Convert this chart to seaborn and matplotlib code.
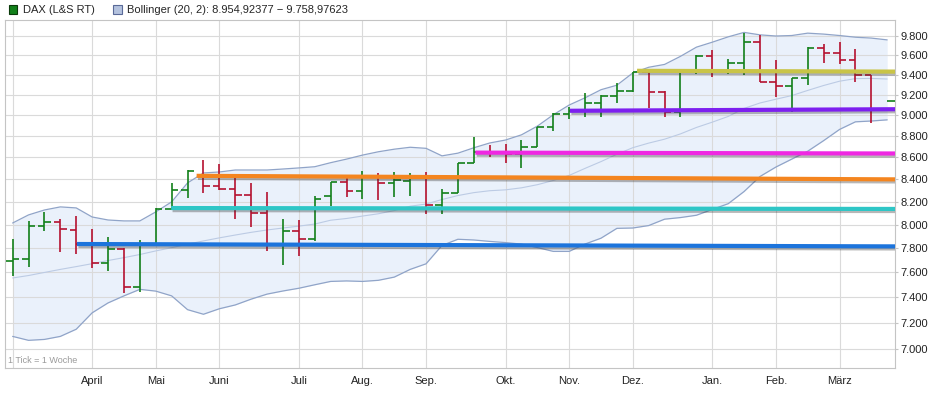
import numpy as np
import pandas as pd
import seaborn as sns
import matplotlib.pyplot as plt
import matplotlib.patheffects as pe
from matplotlib.patches import Patch
from matplotlib.ticker import FixedLocator, NullLocator, FuncFormatter

# Weekly OHLC bars, DAX (L&S RT), week index 0 = first bar (1 Tick = 1 Woche)
opens = [7694, 7711, 7986, 8024, 7955, 7836, 7675, 7794, 7479, 7836,
         8134, 8304, 8430, 8340, 8311, 8263, 8104, 7836, 7946, 7876,
         8248, 8373, 8296, 8430, 8370, 8385, 8430, 8169, 8280, 8546,
         8651, 8641, 8632, 8700, 8884, 9012, 9040, 9116, 9185, 9237,
         9431, 9230, 9031, 9431, 9595, 9425, 9516, 9740, 9330, 9290,
         9364, 9671, 9619, 9550, 9398]
highs = [7876, 8032, 8113, 8049, 8075, 7963, 7893, 7800, 7866, 8141,
         8364, 8485, 8577, 8540, 8410, 8370, 8289, 8047, 8041, 8251,
         8380, 8419, 8476, 8455, 8469, 8460, 8464, 8313, 8552, 8787,
         8716, 8726, 8763, 8889, 9018, 9083, 9214, 9198, 9314, 9431,
         9435, 9240, 9435, 9602, 9654, 9558, 9835, 9811, 9550, 9370,
         9682, 9716, 9740, 9661, 9398]
lows = [7573, 7647, 7946, 7766, 7755, 7636, 7614, 7431, 7444, 7833,
        8128, 8231, 8275, 8304, 8047, 7978, 7780, 7661, 7736, 7861,
        8163, 8239, 8222, 8216, 8245, 8251, 8093, 8093, 8278, 8546,
        8607, 8552, 8500, 8695, 8851, 8960, 8980, 8985, 9116, 9230,
        9067, 8985, 8985, 9408, 9374, 9408, 9398, 9330, 9175, 9034,
        9297, 9516, 9509, 9330, 8922]
closes = [7711, 7986, 8024, 7961, 7836, 7675, 7794, 7479, 7836, 8134,
          8304, 8476, 8340, 8311, 8263, 8104, 7836, 7946, 7876, 8222,
          8373, 8296, 8430, 8370, 8394, 8430, 8169, 8280, 8546, 8651,
          8641, 8632, 8700, 8884, 9012, 9040, 9116, 9185, 9237, 9431,
          9230, 9031, 9431, 9595, 9425, 9516, 9740, 9330, 9290, 9364,
          9671, 9619, 9550, 9398, 9050]
last_price = 9138

# Bollinger (20, 2), one value per week incl. the running week
bb_upper = [8015, 8085, 8128, 8155, 8146, 8067, 8041, 8033, 8033, 8111,
            8199, 8368, 8458, 8467, 8485, 8485, 8485, 8494, 8504, 8515,
            8552, 8585, 8622, 8653, 8677, 8695, 8685, 8615, 8640, 8690,
            8735, 8763, 8812, 8895, 9004, 9099, 9170, 9250, 9295, 9418,
            9476, 9505, 9588, 9683, 9735, 9791, 9838, 9812, 9800, 9805,
            9830, 9820, 9805, 9787, 9778, 9759]
bb_mid = [7555, 7575, 7600, 7625, 7648, 7672, 7698, 7722, 7748, 7778,
          7805, 7835, 7862, 7888, 7912, 7935, 7955, 7972, 7988, 8006,
          8039, 8054, 8075, 8095, 8123, 8161, 8180, 8220, 8255, 8281,
          8298, 8306, 8324, 8352, 8390, 8436, 8500, 8562, 8630, 8691,
          8734, 8771, 8821, 8882, 8933, 8988, 9066, 9119, 9156, 9192,
          9243, 9292, 9335, 9361, 9363, 9357]
bb_lower = [7095, 7065, 7072, 7095, 7150, 7277, 7355, 7411, 7463, 7449,
            7411, 7302, 7266, 7309, 7339, 7385, 7425, 7450, 7472, 7500,
            7527, 7531, 7527, 7536, 7562, 7625, 7671, 7824, 7876, 7870,
            7858, 7848, 7835, 7806, 7774, 7774, 7836, 7885, 7969, 7972,
            7993, 8048, 8062, 8082, 8133, 8183, 8291, 8426, 8512, 8585,
            8658, 8757, 8863, 8936, 8944, 8955]

# x axis: week index of the first bar in each month
month_pos = [0, 5, 9, 13, 18, 22, 26, 31, 35, 39, 44, 48, 52]
month_labels = ['', 'April', 'Mai', 'Juni', 'Juli', 'Aug.', 'Sep.', 'Okt.',
                'Nov.', 'Dez.', 'Jan.', 'Feb.', 'März']
y_ticks = [7000, 7200, 7400, 7600, 7800, 8000, 8200, 8400, 8600, 8800,
           9000, 9200, 9400, 9600, 9800]

# hand drawn support / resistance lines: start week, level at start, level at right edge
sr_start = [4.05, 9.97, 11.57, 29.1, 35.05, 39.27]
sr_left = [7836, 8145, 8432, 8645, 9043, 9440]
sr_right = [7816, 8137, 8400, 8637, 9058, 9432]
sr_colors = ['#1c74dc', '#2ec6c6', '#f4851f', '#ef28e2', '#7d20ef', '#c9c447']

weeks = np.arange(len(opens))
band_weeks = np.arange(len(bb_upper))
df = pd.DataFrame({'week': band_weeks, 'upper': bb_upper, 'mid': bb_mid, 'lower': bb_lower})

sns.set_style('white')
plt.rcParams['font.family'] = ['Liberation Sans', 'DejaVu Sans']

fig = plt.figure(figsize=(9.35, 3.93), dpi=100)
ax = fig.add_axes([5 / 935, 25 / 393, 890 / 935, 348 / 393])
ax.set_yscale('log')
x_right = 55.49

# Bollinger band
ax.fill_between(df['week'], df['lower'], df['upper'], color='#eaf1fb', zorder=0.3, lw=0)
sns.lineplot(data=df, x='week', y='upper', ax=ax, color='#90a4c8', lw=0.9, zorder=1)
sns.lineplot(data=df, x='week', y='lower', ax=ax, color='#90a4c8', lw=0.9, zorder=1)
sns.lineplot(data=df, x='week', y='mid', ax=ax, color='#bccbe4', lw=0.8, zorder=1)

# OHLC bars
up = np.array(closes) >= np.array(opens)
cols = np.where(up, '#12801a', '#b5112f')
ax.vlines(weeks, lows, highs, colors=cols, lw=1.2, zorder=3)
ax.hlines(opens, weeks - 0.42, weeks, colors=cols, lw=1.2, zorder=3)
ax.hlines(closes, weeks, weeks + 0.42, colors=cols, lw=1.2, zorder=3)
ax.hlines([last_price], [len(opens)], [x_right - 0.02], colors='#12801a', lw=1.2, zorder=3)

# support / resistance lines
for x0, y0, y1, c in zip(sr_start, sr_left, sr_right, sr_colors):
    ax.plot([x0, x_right], [y0, y1], color=c, lw=3, solid_capstyle='butt', zorder=4,
            path_effects=[pe.SimpleLineShadow(offset=(1, -1.5), shadow_color='#333333', alpha=0.35),
                          pe.Normal()])

ax.set_xlim(-0.48, x_right)
ax.set_ylim(6858, 9970)

ax.xaxis.set_major_locator(FixedLocator(month_pos))
ax.set_xticklabels(month_labels)
ax.yaxis.set_major_locator(FixedLocator(y_ticks))
ax.yaxis.set_minor_locator(NullLocator())
ax.yaxis.set_major_formatter(FuncFormatter(lambda v, p: f'{v:,.0f}'.replace(',', '.')))
ax.yaxis.tick_right()
ax.set_xlabel('')
ax.set_ylabel('')

ax.grid(True, color='#dadada', lw=0.8)
ax.set_axisbelow(True)
for s in ax.spines.values():
    s.set_color('#c4c4c4')
    s.set_linewidth(0.8)
ax.tick_params(axis='x', length=3, color='#c4c4c4', pad=3, labelsize=8, labelcolor='#222222')
ax.tick_params(axis='y', length=2, color='#c4c4c4', pad=2, labelsize=8, labelcolor='#222222')

ax.text(0.003, 0.008, '1 Tick = 1 Woche', transform=ax.transAxes, fontsize=6.5,
        color='#9a9a9a', ha='left', va='bottom')

handles = [Patch(facecolor='#12801a', edgecolor='#0a3a0a', lw=0.8),
           Patch(facecolor='#b4c2de', edgecolor='#5a6a98', lw=0.8)]
labels = ['DAX (L&S RT)', 'Bollinger (20, 2): 8.954,92377 \u2212 9.758,97623']
fig.legend(handles, labels, loc='upper left', bbox_to_anchor=(0.002, 1.004), ncol=2,
           frameon=False, fontsize=8, handlelength=0.8, handleheight=0.8,
           handletextpad=0.5, columnspacing=1.6, borderaxespad=0.2)

fig.savefig('out.png', dpi=100)
